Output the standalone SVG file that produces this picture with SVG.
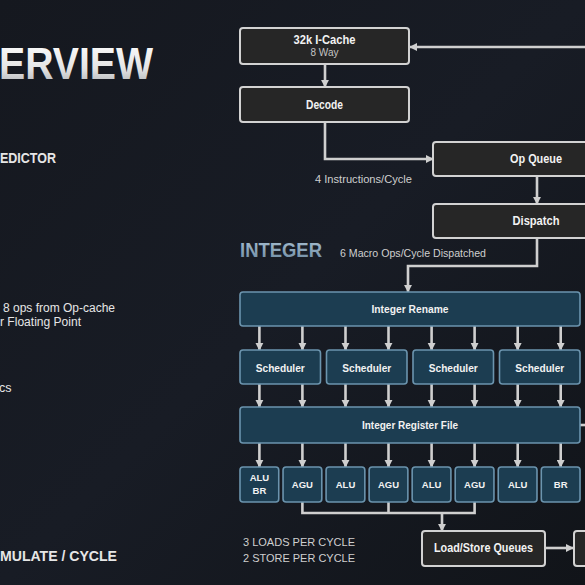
<svg xmlns="http://www.w3.org/2000/svg" width="585" height="585" viewBox="0 0 585 585">
  <defs>
    <linearGradient id="bg" x1="0" y1="0" x2="1" y2="1">
      <stop offset="0" stop-color="#15181f"/>
      <stop offset="0.5" stop-color="#181c25"/>
      <stop offset="1" stop-color="#111419"/>
    </linearGradient>
    <linearGradient id="silver" x1="0" y1="0" x2="0" y2="1">
      <stop offset="0" stop-color="#ffffff"/>
      <stop offset="0.6" stop-color="#e4e4e4"/>
      <stop offset="1" stop-color="#a9acb0"/>
    </linearGradient>
    <linearGradient id="steel" x1="0" y1="0" x2="0" y2="1">
      <stop offset="0" stop-color="#a9c0d2"/>
      <stop offset="1" stop-color="#6f8ca3"/>
    </linearGradient>
    <marker id="arr" viewBox="0 0 10 10" refX="9" refY="5" markerWidth="3.2" markerHeight="3.2" orient="auto" markerUnits="strokeWidth">
      <path d="M0,0 L10,5 L0,10 z" fill="#cfcfcf"/>
    </marker>
    <style>
      .dark { fill: #262626; stroke: #d2d2d2; stroke-width: 2; }
      .blue { fill: #1c3d51; stroke: #6b94ae; stroke-width: 1.6; }
      .lbl { font-family: "Liberation Sans", Arial, sans-serif; font-weight: bold; fill: #f2f2f2; text-anchor: middle; }
      .sub { font-family: "Liberation Sans", Arial, sans-serif; fill: #c4c4c4; text-anchor: middle; }
      .note { font-family: "Liberation Sans", Arial, sans-serif; fill: #cfcfcf; }
      .side { font-family: "Liberation Sans", Arial, sans-serif; fill: #e6e6e6; }
      .conn { fill: none; stroke: #cfcfcf; stroke-width: 2.6; }
      .arrow { marker-end: url(#arr); }
    </style>
  </defs>

  <rect x="0" y="0" width="585" height="585" fill="url(#bg)"/>

  <!-- Left slide text (cut off) -->
  <text x="-1" y="79" font-family="'Liberation Sans', Arial, sans-serif" font-weight="bold" font-size="44" fill="url(#silver)" textLength="154" lengthAdjust="spacingAndGlyphs">ERVIEW</text>
  <text class="side" x="0" y="163" font-size="15" font-weight="bold" textLength="56" lengthAdjust="spacingAndGlyphs">EDICTOR</text>
  <text class="side" x="3" y="312" font-size="12.5" textLength="112" lengthAdjust="spacingAndGlyphs">8 ops from Op-cache</text>
  <text class="side" x="0" y="326" font-size="12.5" textLength="81" lengthAdjust="spacingAndGlyphs">r Floating Point</text>
  <text class="side" x="-1" y="392" font-size="12.5">cs</text>
  <text class="side" x="0" y="561" font-size="15" font-weight="bold" textLength="117" lengthAdjust="spacingAndGlyphs">MULATE / CYCLE</text>

  <!-- Annotations -->
  <text class="note" x="315" y="183" font-size="10.5" textLength="97" lengthAdjust="spacingAndGlyphs">4 Instructions/Cycle</text>
  <text x="240" y="257" font-family="'Liberation Sans', Arial, sans-serif" font-weight="bold" font-size="21" fill="url(#steel)" textLength="82" lengthAdjust="spacingAndGlyphs">INTEGER</text>
  <text class="note" x="340" y="257" font-size="10.5" textLength="146" lengthAdjust="spacingAndGlyphs">6 Macro Ops/Cycle Dispatched</text>
  <text class="note" x="243" y="546" font-size="11.5" textLength="112" lengthAdjust="spacingAndGlyphs">3 LOADS PER CYCLE</text>
  <text class="note" x="243" y="562" font-size="11.5" textLength="112" lengthAdjust="spacingAndGlyphs">2 STORE PER CYCLE</text>

  <!-- Connectors -->
  <g id="connectors">
    <path class="conn arrow" d="M585,47 H410"/>
    <path class="conn arrow" d="M325,64 V87"/>
    <path class="conn arrow" d="M325,122 V159 H433"/>
    <path class="conn arrow" d="M537,176 V204"/>
    <path class="conn arrow" d="M537,238 V266 H408 V292"/>
    <!-- rename to schedulers -->
    <path class="conn arrow" d="M259.4,326 V350"/>
    <path class="conn arrow" d="M302.4,326 V350"/>
    <path class="conn arrow" d="M345.5,326 V350"/>
    <path class="conn arrow" d="M388.5,326 V350"/>
    <path class="conn arrow" d="M431.6,326 V350"/>
    <path class="conn arrow" d="M474.6,326 V350"/>
    <path class="conn arrow" d="M517.7,326 V350"/>
    <path class="conn arrow" d="M560.7,326 V350"/>
    <!-- schedulers to register file -->
    <path class="conn arrow" d="M259.4,384 V407"/>
    <path class="conn arrow" d="M302.4,384 V407"/>
    <path class="conn arrow" d="M345.5,384 V407"/>
    <path class="conn arrow" d="M388.5,384 V407"/>
    <path class="conn arrow" d="M431.6,384 V407"/>
    <path class="conn arrow" d="M474.6,384 V407"/>
    <path class="conn arrow" d="M517.7,384 V407"/>
    <path class="conn arrow" d="M560.7,384 V407"/>
    <!-- register file to units -->
    <path class="conn arrow" d="M259.4,443 V467"/>
    <path class="conn arrow" d="M302.4,443 V467"/>
    <path class="conn arrow" d="M345.5,443 V467"/>
    <path class="conn arrow" d="M388.5,443 V467"/>
    <path class="conn arrow" d="M431.6,443 V467"/>
    <path class="conn arrow" d="M474.6,443 V467"/>
    <path class="conn arrow" d="M517.7,443 V467"/>
    <path class="conn arrow" d="M560.7,443 V467"/>
    <path class="conn" d="M580,425 H585"/>
    <!-- AGUs to load/store -->
    <path class="conn" d="M302.4,502 V513 H474.6 V502"/>
    <path class="conn" d="M388.5,502 V513"/>
    <path class="conn arrow" d="M442,513 V531"/>
    <path class="conn arrow" d="M545,548 H573"/>
  </g>

  <!-- Front end nodes -->
  <g id="icache">
    <rect class="dark" x="240" y="28" width="169" height="36" rx="3"/>
    <text class="lbl" x="324.5" y="44" font-size="12" textLength="62" lengthAdjust="spacingAndGlyphs">32k I-Cache</text>
    <text class="sub" x="324.5" y="56" font-size="10">8 Way</text>
  </g>
  <g id="decode">
    <rect class="dark" x="240" y="87" width="169" height="35" rx="3"/>
    <text class="lbl" x="324.5" y="109" font-size="12" textLength="37" lengthAdjust="spacingAndGlyphs">Decode</text>
  </g>
  <g id="opqueue">
    <rect class="dark" x="433" y="142" width="170" height="34" rx="3"/>
    <text class="lbl" x="536" y="163" font-size="12" textLength="52" lengthAdjust="spacingAndGlyphs">Op Queue</text>
  </g>
  <g id="dispatch">
    <rect class="dark" x="433" y="204" width="170" height="34" rx="3"/>
    <text class="lbl" x="536" y="225" font-size="12" textLength="47" lengthAdjust="spacingAndGlyphs">Dispatch</text>
  </g>

  <!-- Integer cluster -->
  <g id="rename">
    <rect class="blue" x="240" y="292" width="340" height="34" rx="3"/>
    <text class="lbl" x="410" y="313" font-size="11" textLength="77" lengthAdjust="spacingAndGlyphs">Integer Rename</text>
  </g>
  <g id="sched1">
    <rect class="blue" x="240" y="350" width="80.5" height="34" rx="3"/>
    <text class="lbl" x="280.25" y="372" font-size="11" textLength="49" lengthAdjust="spacingAndGlyphs">Scheduler</text>
  </g>
  <g id="sched2">
    <rect class="blue" x="326.5" y="350" width="80.5" height="34" rx="3"/>
    <text class="lbl" x="366.75" y="372" font-size="11" textLength="49" lengthAdjust="spacingAndGlyphs">Scheduler</text>
  </g>
  <g id="sched3">
    <rect class="blue" x="413" y="350" width="80.5" height="34" rx="3"/>
    <text class="lbl" x="453.25" y="372" font-size="11" textLength="49" lengthAdjust="spacingAndGlyphs">Scheduler</text>
  </g>
  <g id="sched4">
    <rect class="blue" x="499.5" y="350" width="80.5" height="34" rx="3"/>
    <text class="lbl" x="539.75" y="372" font-size="11" textLength="49" lengthAdjust="spacingAndGlyphs">Scheduler</text>
  </g>
  <g id="regfile">
    <rect class="blue" x="240" y="407" width="340" height="36" rx="3"/>
    <text class="lbl" x="410" y="429" font-size="11" textLength="96" lengthAdjust="spacingAndGlyphs">Integer Register File</text>
  </g>

  <g id="unit1">
    <rect class="blue" x="240" y="467" width="38.75" height="35" rx="3"/>
    <text class="lbl" x="259.4" y="481" font-size="9.5">ALU</text>
    <text class="lbl" x="259.4" y="494" font-size="9.5">BR</text>
  </g>
  <g id="unit2">
    <rect class="blue" x="283.04" y="467" width="38.75" height="35" rx="3"/>
    <text class="lbl" x="302.4" y="488" font-size="9.5">AGU</text>
  </g>
  <g id="unit3">
    <rect class="blue" x="326.08" y="467" width="38.75" height="35" rx="3"/>
    <text class="lbl" x="345.5" y="488" font-size="9.5">ALU</text>
  </g>
  <g id="unit4">
    <rect class="blue" x="369.12" y="467" width="38.75" height="35" rx="3"/>
    <text class="lbl" x="388.5" y="488" font-size="9.5">AGU</text>
  </g>
  <g id="unit5">
    <rect class="blue" x="412.16" y="467" width="38.75" height="35" rx="3"/>
    <text class="lbl" x="431.6" y="488" font-size="9.5">ALU</text>
  </g>
  <g id="unit6">
    <rect class="blue" x="455.2" y="467" width="38.75" height="35" rx="3"/>
    <text class="lbl" x="474.6" y="488" font-size="9.5">AGU</text>
  </g>
  <g id="unit7">
    <rect class="blue" x="498.24" y="467" width="38.75" height="35" rx="3"/>
    <text class="lbl" x="517.7" y="488" font-size="9.5">ALU</text>
  </g>
  <g id="unit8">
    <rect class="blue" x="541.28" y="467" width="38.75" height="35" rx="3"/>
    <text class="lbl" x="560.7" y="488" font-size="9.5">BR</text>
  </g>

  <g id="lsq">
    <rect class="dark" x="422" y="531" width="123" height="35" rx="3"/>
    <text class="lbl" x="483.5" y="552" font-size="12" textLength="99" lengthAdjust="spacingAndGlyphs">Load/Store Queues</text>
  </g>
  <g id="next">
    <rect class="dark" x="574" y="531" width="30" height="35" rx="3"/>
  </g>
</svg>
